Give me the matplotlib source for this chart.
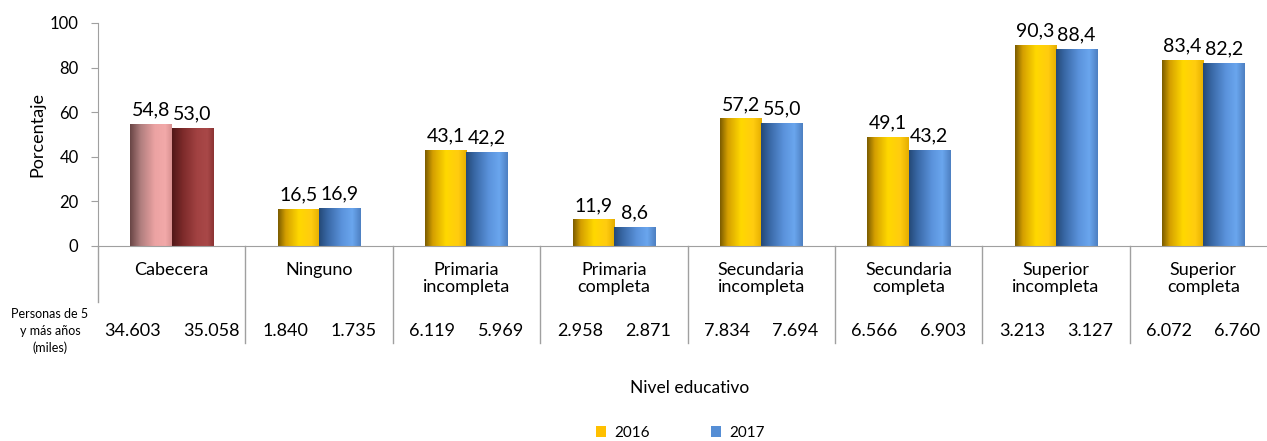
import numpy as np
import matplotlib
matplotlib.use("Agg")
import matplotlib.pyplot as plt
from matplotlib.colors import LinearSegmentedColormap
from matplotlib.patches import Patch

plt.rcParams['font.family'] = ['Lato', 'DejaVu Sans']

categories = ["Cabecera", "Ninguno", "Primaria\nincompleta", "Primaria\ncompleta",
              "Secundaria\nincompleta", "Secundaria\ncompleta",
              "Superior\nincompleta", "Superior\ncompleta"]
pct_2016 = [54.8, 16.5, 43.1, 11.9, 57.2, 49.1, 90.3, 83.4]
pct_2017 = [53.0, 16.9, 42.2, 8.6, 55.0, 43.2, 88.4, 82.2]
pers_2016 = ["34.603", "1.840", "6.119", "2.958", "7.834", "6.566", "3.213", "6.072"]
pers_2017 = ["35.058", "1.735", "5.969", "2.871", "7.694", "6.903", "3.127", "6.760"]
years = ["2016", "2017"]

W, H = 1267, 441
fig = plt.figure(figsize=(W / 100, H / 100), dpi=100)
ax = fig.add_axes([98 / W, 1 - 246 / H, (1277 - 98) / W, (246 - 23) / H])

cm_yellow = LinearSegmentedColormap.from_list(
    "y", [(0, '#7d5e00'), (0.18, '#d49f00'), (0.5, '#ffd800'), (0.8, '#ffcc10'), (1, '#e6ae00')])
cm_blue = LinearSegmentedColormap.from_list(
    "b", [(0, '#254a78'), (0.2, '#3968a6'), (0.55, '#5b93dc'), (0.8, '#6aa6ee'), (1, '#4e80c2')])
cm_pink = LinearSegmentedColormap.from_list(
    "p", [(0, '#6a4646'), (0.25, '#b07e7e'), (0.6, '#eca3a3'), (0.85, '#f2a9a9'), (1, '#d99191')])
cm_red = LinearSegmentedColormap.from_list(
    "r", [(0, '#521818'), (0.25, '#7c2a2a'), (0.6, '#a24242'), (0.85, '#a94848'), (1, '#8c3434')])

x = np.arange(len(categories))
bw = 0.28
grad = np.linspace(0, 1, 64).reshape(1, -1)


def gradient_bars(xs, vals, cmaps):
    bars = ax.bar(xs, vals, width=bw, facecolor='none', edgecolor='none', zorder=3)
    for b, cmap in zip(bars, cmaps):
        x0, y0 = b.get_x(), b.get_y()
        im = ax.imshow(grad, cmap=cmap, aspect='auto', zorder=2,
                       extent=[x0, x0 + b.get_width(), y0, y0 + b.get_height()])
        im.set_clip_path(b)
    return bars


b16 = gradient_bars(x - bw / 2, pct_2016, [cm_pink] + [cm_yellow] * 7)
b17 = gradient_bars(x + bw / 2, pct_2017, [cm_red] + [cm_blue] * 7)

for bars, vals in ((b16, pct_2016), (b17, pct_2017)):
    for b, v in zip(bars, vals):
        ax.annotate(f"{v:.1f}".replace(".", ","), (b.get_x() + b.get_width() / 2, v),
                    xytext=(0, 4), textcoords="offset points",
                    ha='center', va='bottom', fontsize=14, color='black')

ax.set_xlim(-0.5, len(categories) - 0.5)
ax.set_ylim(0, 100)
ax.set_yticks([0, 20, 40, 60, 80, 100])
ax.tick_params(axis='y', length=5, color='#a0a0a0', labelsize=12, pad=9)
ax.set_xticks([])
for s in ('top', 'right'):
    ax.spines[s].set_visible(False)
for s in ('left', 'bottom'):
    ax.spines[s].set_color('#a0a0a0')
ax.set_ylabel("Porcentaje", fontsize=13, labelpad=3)

tr = ax.get_xaxis_transform()
ah = 246 - 23


def yf(ypix):
    return -(ypix - 246) / ah


# separators and y axis extension
ax.plot([-0.5, -0.5], [0, yf(302)], color='#a0a0a0', lw=1, transform=tr, clip_on=False)
for sx in np.arange(0.5, len(categories), 1.0):
    ax.plot([sx, sx], [0, yf(343)], color='#a0a0a0', lw=1, transform=tr, clip_on=False)

for xi, cat, p16, p17 in zip(x, categories, pers_2016, pers_2017):
    ax.text(xi, yf(262), cat, transform=tr, ha='center', va='top', fontsize=13,
            linespacing=1.05)
    ax.text(xi - 0.075, yf(331), p16, transform=tr, ha='right', va='center', fontsize=13)
    ax.text(xi + 0.075, yf(331), p17, transform=tr, ha='left', va='center', fontsize=13)

fig.text(50 / W, 1 - 331 / H, "Personas de 5\ny más años\n(miles)", ha='center', va='center',
         fontsize=9, linespacing=1.45)

fig.text(690 / W, 1 - 388 / H, "Nivel educativo", ha='center', va='center', fontsize=12.5)

handles = [Patch(facecolor='#ffc000'), Patch(facecolor='#558ed5')]
fig.legend(handles, years, loc='center', bbox_to_anchor=(680 / W, 1 - 433 / H), ncol=2,
           frameon=False, fontsize=11, handlelength=0.7, handleheight=0.7,
           handletextpad=0.5, columnspacing=4.0)

fig.savefig("out.png", dpi=100)
